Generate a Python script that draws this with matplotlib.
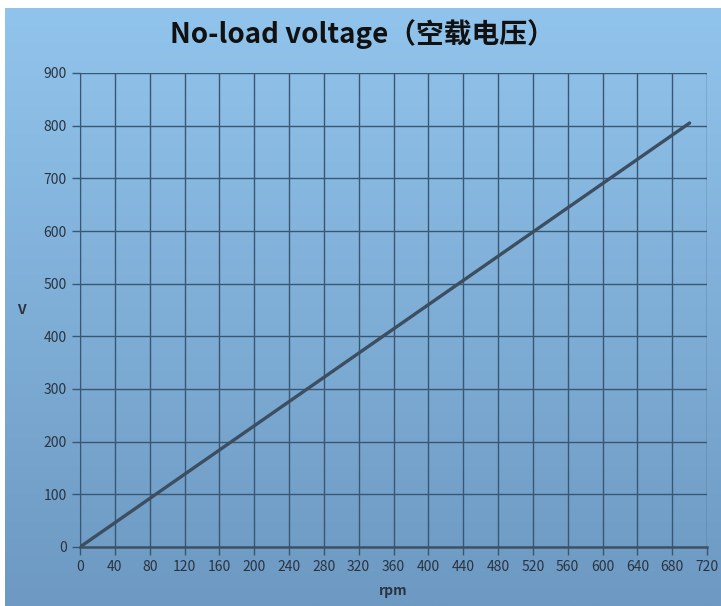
import numpy as np
import matplotlib
matplotlib.use('Agg')
import matplotlib.pyplot as plt

plt.rcParams['font.family'] = ['Noto Sans CJK SC', 'DejaVu Sans']

## data
rpm = [0, 100, 200, 300, 400, 500, 600, 700]
volts = [0, 115, 230, 345, 460, 575, 690, 805]
x_ticks = list(range(0, 721, 40))
y_ticks = list(range(0, 901, 100))

title = 'No-load voltage（空载电压）'
grid_col = '#3b5670'
text_col = '#2a3440'

fig = plt.figure(figsize=(7.21, 6.06), dpi=100)
fig.patch.set_facecolor('white')

## gradient panel behind everything
bg = fig.add_axes([5 / 721, 0, 1 - 5 / 721, 1 - 8 / 606], zorder=0)
grad = np.linspace(0, 1, 256).reshape(-1, 1)
cmap = matplotlib.colors.LinearSegmentedColormap.from_list('bgc', ['#91c4ec', '#6d99c2'])
bg.imshow(grad, aspect='auto', cmap=cmap, extent=[0, 1, 0, 1], origin='upper')
bg.set_axis_off()

ax = fig.add_axes([80 / 721, 59 / 606, 627 / 721, 474 / 606], zorder=1)
ax.patch.set_alpha(0)
ax.plot(rpm, volts, color='#3c4e60', lw=2.4, solid_capstyle='round', zorder=3)

ax.set_xlim(0, 720)
ax.set_ylim(0, 900)
ax.set_xticks(x_ticks)
ax.set_yticks(y_ticks)
ax.grid(True, color=grid_col, lw=1.0)
ax.tick_params(colors=grid_col, labelcolor=text_col, labelsize=10, length=6, width=1)
for s in ['top', 'right']:
    ax.spines[s].set_visible(False)
ax.spines['left'].set_color(grid_col)
ax.spines['bottom'].set_color('#3e5266')
ax.spines['bottom'].set_linewidth(1.8)

ax.set_xlabel('rpm', fontsize=10, color=text_col, fontweight='bold', labelpad=7)
ax.set_ylabel('V', fontsize=10, color=text_col, fontweight='bold', rotation=0, labelpad=16, va='center')

fig.text(0.502, 0.944, title, ha='center', va='center', fontsize=20, fontweight='bold', color='#111111')

fig.savefig('out.png', dpi=100)
